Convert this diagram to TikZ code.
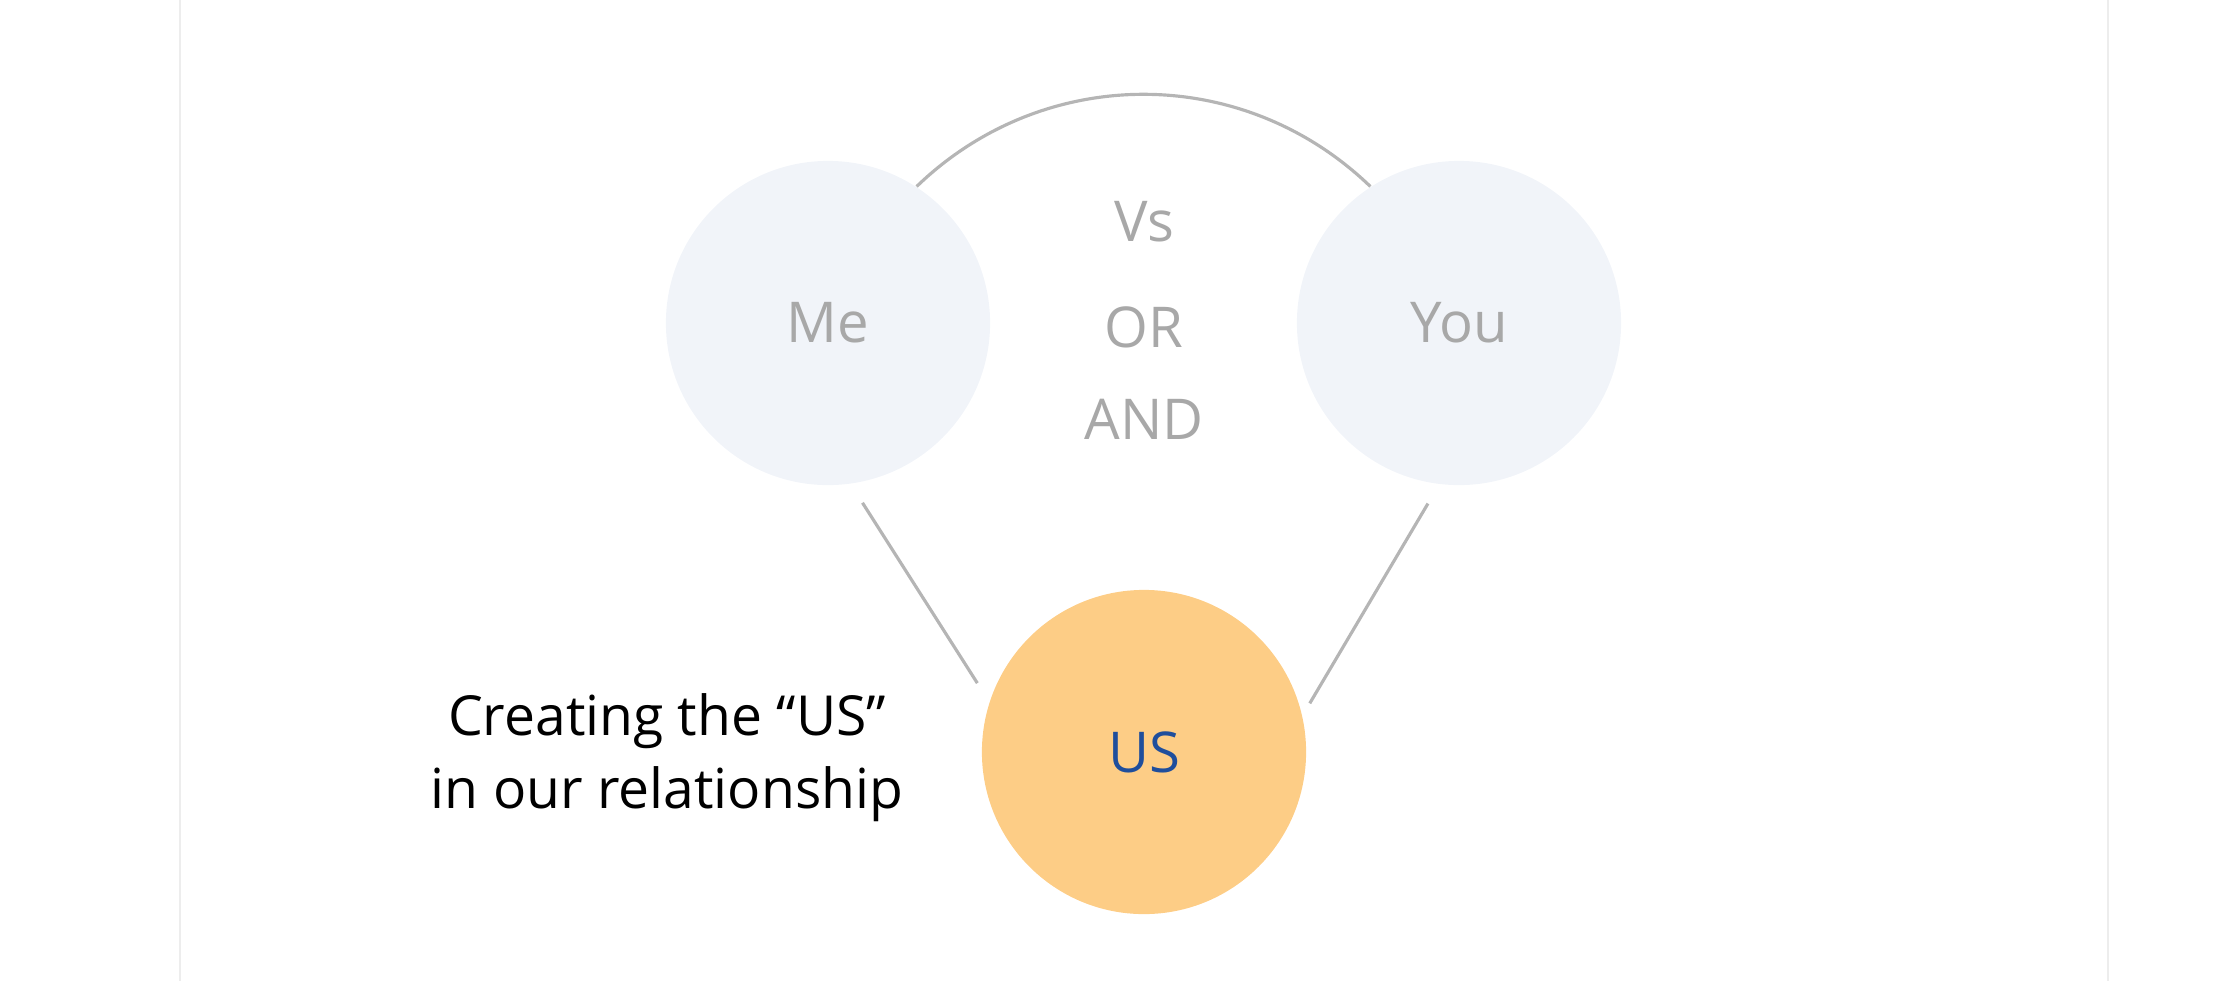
\documentclass[tikz,border=0pt]{standalone}
\usepackage{fontspec}
\setmainfont{Open Sans}
\usetikzlibrary{positioning}

\definecolor{pale}{HTML}{F1F4F9}
\definecolor{peach}{HTML}{FDCD86}
\definecolor{navy}{HTML}{1F4E9C}
\definecolor{wordgray}{HTML}{A8A8A8}
\definecolor{linkgray}{HTML}{B5B5B5}
\definecolor{edgegray}{HTML}{EDEDED}

\begin{document}
\begin{tikzpicture}[x=0.01cm, y=-0.01cm,
    bubble/.style={circle, minimum size=3.24cm, inner sep=0pt, font=\fontsize{16}{19}\selectfont},
    word/.style={text=wordgray, font=\fontsize{16}{19}\selectfont},
    link/.style={linkgray, line width=0.9pt}]
    % Frame
    \useasboundingbox (0,0) rectangle (2217,981);
    \draw[edgegray, line width=0.6pt] (180,0) -- (180,981);
    \draw[edgegray, line width=0.6pt] (2108,0) -- (2108,981);

    % Circles
    \node[bubble, fill=pale, text=wordgray] (me) at (828,323) {Me};
    \node[bubble, fill=pale, text=wordgray] (you) at (1459,323) {You};
    \node[bubble, fill=peach, text=navy] (us) at (1144,752) {US};

    % Words in the middle
    \node[word] (vs) at (1144,222) {Vs};
    \node[word] (or) at (1144,327) {OR};
    \node[word] (and) at (1144,419) {AND};

    % Connectors
    \draw[link] (me.57) to[out=44, in=136] (you.123);
    \draw[link, shorten <=0.22cm, shorten >=0.22cm] (me.278) -- (us.162);
    \draw[link, shorten <=0.22cm, shorten >=0.14cm] (you.263) -- (us.13.5);

    % Caption
    \node[align=center, font=\fontsize{15.7}{20.8}\selectfont] (note) at (667,758)
        {Creating the “US”\\in our relationship};
\end{tikzpicture}
\end{document}
